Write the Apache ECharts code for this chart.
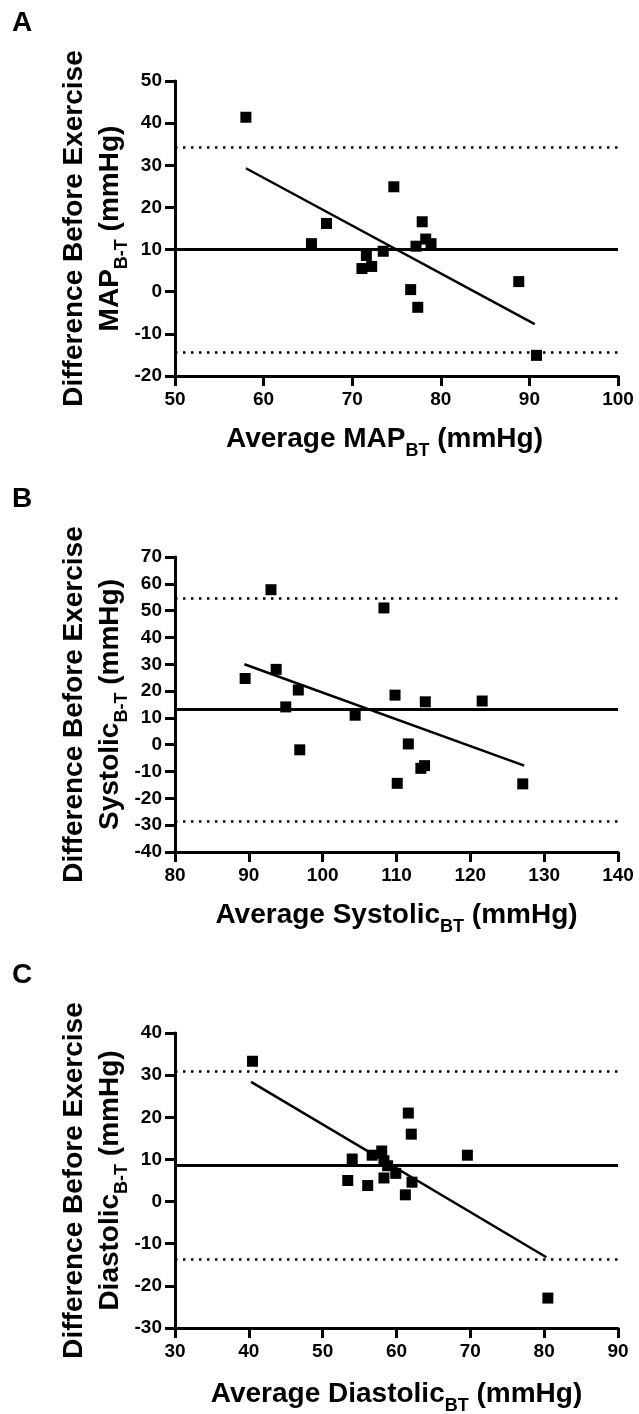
<!DOCTYPE html>
<html><head><meta charset="utf-8">
<script src="https://cdn.jsdelivr.net/npm/echarts@6/dist/echarts.min.js"></script>
<style>html,body{margin:0;padding:0;background:#fff}#c{width:639px;height:1414px}</style>
</head><body><div id="c"></div>
<script>
// ---------- data ----------
const panelLetters = ['A', 'B', 'C'];

const mapAvg  = [58.0, 65.4, 67.1, 71.1, 71.6, 72.2, 73.5, 74.7, 76.6, 77.4, 77.2, 77.9, 78.3, 78.9, 88.8, 90.8];
const mapDiff = [41.4, 11.4, 16.2, 5.5, 8.6, 6.0, 9.6, 24.9, 0.5, -3.7, 10.8, 16.6, 12.5, 11.4, 2.4, -15.1];
const mapBias = 10.0, mapUpper = 34.3, mapLower = -14.4;
const mapFitX = [58.0, 90.6], mapFitY = [29.3, -7.7];

const sysAvg  = [89.5, 93.0, 93.7, 95.0, 96.7, 96.9, 104.4, 108.3, 109.8, 110.1, 111.6, 113.3, 113.8, 113.9, 121.6, 127.1];
const sysDiff = [24.7, 57.8, 28.1, 14.1, 20.4, -1.9, 11.0, 51.0, 18.5, -14.4, 0.3, -8.8, -7.8, 16.0, 16.3, -14.6];
const sysBias = 13.4, sysUpper = 54.8, sysLower = -28.4;
const sysFitX = [89.4, 127.3], sysFitY = [30.0, -7.8];

const diaAvg  = [40.5, 54.0, 53.4, 56.1, 56.7, 58.0, 58.3, 58.3, 58.8, 59.9, 61.6, 62.0, 62.1, 61.2, 69.6, 80.5];
const diaDiff = [33.3, 10.1, 5.0, 3.8, 11.0, 12.0, 9.7, 5.6, 8.5, 6.7, 21.0, 16.0, 4.6, 1.6, 11.0, -22.9];
const diaBias = 8.6, diaUpper = 31.0, diaLower = -13.8;
const diaFitX = [40.3, 80.3], diaFitY = [28.4, -13.2];

const xRanges = [[50, 100], [80, 140], [30, 90]];
const yRanges = [[-20, 50], [-40, 70], [-30, 40]];
const measureNames = ['MAP', 'Systolic', 'Diastolic'];

// ---------- chart ----------
const panels = [
  {avg: mapAvg, diff: mapDiff, bias: mapBias, up: mapUpper, lo: mapLower, fx: mapFitX, fy: mapFitY},
  {avg: sysAvg, diff: sysDiff, bias: sysBias, up: sysUpper, lo: sysLower, fx: sysFitX, fy: sysFitY},
  {avg: diaAvg, diff: diaDiff, bias: diaBias, up: diaUpper, lo: diaLower, fx: diaFitX, fy: diaFitY}
];
const gridTops = [81, 557, 1033];
const xNameGaps = [45, 45, 48];
const xNamePads = [[0, 24, 0, 0], [0, 0, 0, 0], [0, 0, 0, 0]];
const FONT = 'Liberation Sans, Arial, Helvetica, sans-serif';
const rich = {
  t: {fontSize: 28, fontWeight: 'bold', fontFamily: FONT, color: '#000', lineHeight: 36},
  s: {fontSize: 18, fontWeight: 'bold', fontFamily: FONT, color: '#000', lineHeight: 18, padding: [24, 0, 0, 0]}
};
const labelStyle = {fontSize: 19, fontWeight: 'bold', fontFamily: FONT, color: '#000'};
const axisLine = {show: true, onZero: false, lineStyle: {color: '#000', width: 3}};
const axisTick = {show: true, length: 10, lineStyle: {color: '#000', width: 3}};

const option = {
  backgroundColor: '#fff',
  animation: false,
  grid: gridTops.map(t => ({left: 175, top: t, width: 443, height: 295, outerBoundsMode: 'none', containLabel: false})),
  xAxis: panels.map((p, i) => ({
    type: 'value', gridIndex: i, min: xRanges[i][0], max: xRanges[i][1], interval: 10,
    axisLine, axisTick, splitLine: {show: false},
    axisLabel: Object.assign({margin: 14}, labelStyle),
    name: '{t|Average ' + measureNames[i] + '}{s|BT}{t| (mmHg)}',
    nameLocation: 'middle', nameGap: xNameGaps[i], nameMoveOverlap: false,
    nameTextStyle: {rich, padding: xNamePads[i]}
  })),
  yAxis: panels.map((p, i) => ({
    type: 'value', gridIndex: i, min: yRanges[i][0], max: yRanges[i][1], interval: 10,
    axisLine, axisTick, splitLine: {show: false},
    axisLabel: Object.assign({margin: 13}, labelStyle),
    name: '{t|Difference Before Exercise}\n{t|' + measureNames[i] + '}{s|B-T}{t| (mmHg)}',
    nameLocation: 'middle', nameGap: 47, nameMoveOverlap: false,
    nameTextStyle: {rich, align: 'center'}
  })),
  graphic: panelLetters.map((L, i) => ({
    type: 'text', left: 12, top: gridTops[i] - 72,
    style: {text: L, font: 'bold 28px ' + FONT, fill: '#000'}
  })),
  series: []
};

panels.forEach((p, i) => {
  option.series.push({
    type: 'scatter', xAxisIndex: i, yAxisIndex: i,
    symbol: 'rect', symbolSize: 11,
    itemStyle: {color: '#000', opacity: 1},
    data: p.avg.map((v, k) => [v, p.diff[k]]),
    markLine: {
      silent: true, symbol: 'none', label: {show: false},
      data: [
        {yAxis: p.bias, lineStyle: {type: 'solid', width: 3, color: '#000'}},
        {yAxis: p.up, lineStyle: {type: [2.5, 5.5], width: 2.5, color: '#000'}},
        {yAxis: p.lo, lineStyle: {type: [2.5, 5.5], width: 2.5, color: '#000'}}
      ]
    },
    z: 3
  });
  option.series.push({
    type: 'line', xAxisIndex: i, yAxisIndex: i,
    symbol: 'none', lineStyle: {color: '#000', width: 2.5},
    data: p.fx.map((v, k) => [v, p.fy[k]]),
    z: 2
  });
});

const chart = echarts.init(document.getElementById('c'), null, {renderer: 'canvas'});
chart.setOption(option);
</script>
</body></html>
